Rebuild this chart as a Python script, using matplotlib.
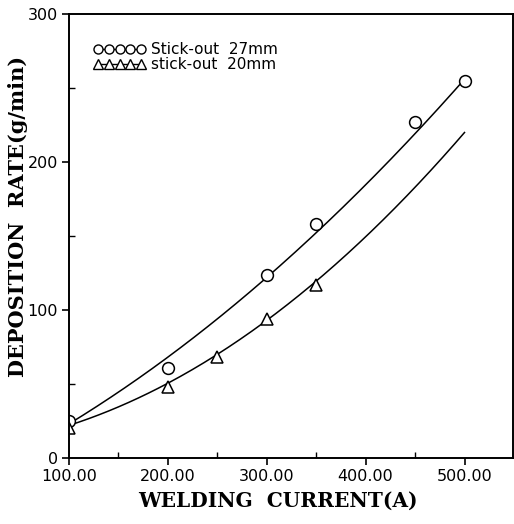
import numpy as np
import matplotlib
matplotlib.use("Agg")
import matplotlib.pyplot as plt
from matplotlib.ticker import MultipleLocator, FormatStrFormatter

# Data
x27 = [100, 200, 300, 350, 450, 500]
y27 = [25, 61, 124, 158, 227, 255]
x20 = [100, 200, 250, 300, 350]
y20 = [20, 48, 68, 94, 117]
# points on the fitted curves
fit_x = [100, 300, 500]
fit27 = [23, 122, 256]
fit20 = [22, 93, 220]
label27 = "Stick-out  27mm"
label20 = "stick-out  20mm"
xlabel = "WELDING  CURRENT(A)"
ylabel = "DEPOSITION  RATE(g/min)"

fig = plt.figure(figsize=(5.14, 5.24), dpi=100)
ax = fig.add_axes([0.134, 0.126, 0.864, 0.847])

c27 = np.polyfit(fit_x, fit27, 2)
c20 = np.polyfit(fit_x, fit20, 2)
xc = np.linspace(fit_x[0], fit_x[-1], 200)
ax.plot(xc, np.polyval(c27, xc), color="black", lw=1.1)
ax.plot(xc, np.polyval(c20, xc), color="black", lw=1.1)

ax.plot(x27, y27, linestyle="none", marker="o", ms=8.5, mfc="white", mec="black", mew=1.1)
ax.plot(x20, y20, linestyle="none", marker="^", ms=8, mfc="white", mec="black", mew=1.1)

# legend handles
h1, = ax.plot([], [], color="black", lw=1.0, marker="o", ms=6.5, mfc="white", mec="black", mew=1.0)
h2, = ax.plot([], [], color="black", lw=1.0, marker="^", ms=6.5, mfc="white", mec="black", mew=1.0)
leg = ax.legend([h1, h2], [label27, label20], loc="upper left", numpoints=5,
                handlelength=3.4, handletextpad=0.35, frameon=False,
                bbox_to_anchor=(0.025, 0.968), labelspacing=0.02,
                prop={"family": "DejaVu Sans", "size": 11})

ax.set_xlim(100, 549)
ax.set_ylim(0, 300)
ax.xaxis.set_major_locator(MultipleLocator(100))
ax.xaxis.set_minor_locator(MultipleLocator(50))
ax.yaxis.set_major_locator(MultipleLocator(100))
ax.yaxis.set_minor_locator(MultipleLocator(50))
ax.xaxis.set_major_formatter(FormatStrFormatter("%.2f"))
ax.tick_params(which="major", direction="out", length=5, width=1.2, labelsize=11.5, pad=3)
ax.tick_params(which="minor", direction="in", length=4, width=1.0)
for s in ax.spines.values():
    s.set_linewidth(1.4)

ax.set_xlabel(xlabel, family="DejaVu Serif", fontweight="bold", fontsize=14.5)
ax.xaxis.set_label_coords(0.47, -0.075)
ax.set_ylabel(ylabel, family="DejaVu Serif", fontweight="bold", fontsize=15)
ax.yaxis.set_label_coords(-0.093, 0.545)

fig.savefig("out.png", dpi=100)
